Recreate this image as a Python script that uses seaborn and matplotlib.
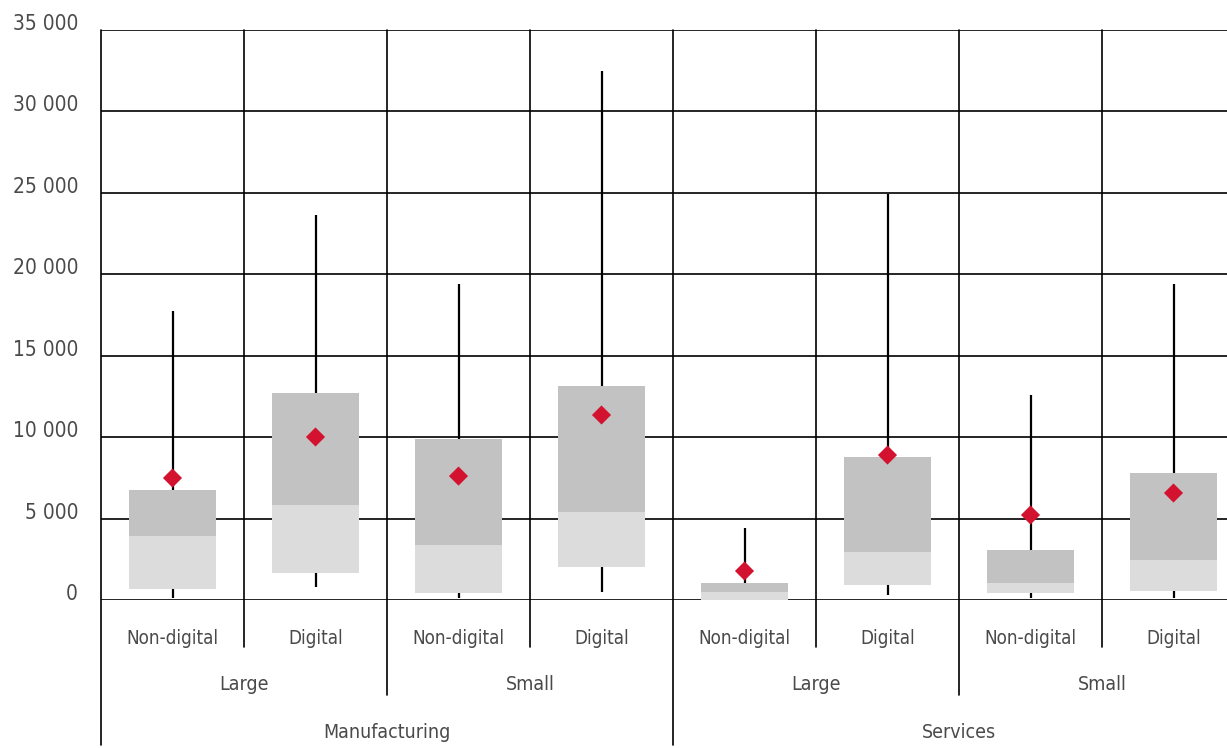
import numpy as np
import pandas as pd
import matplotlib
matplotlib.use('Agg')
import matplotlib.pyplot as plt
import matplotlib.transforms as mtransforms
from matplotlib import font_manager
import seaborn as sns

# categories (innermost level first)
digital = ['Non-digital', 'Digital', 'Non-digital', 'Digital',
           'Non-digital', 'Digital', 'Non-digital', 'Digital']
size = ['Large', 'Large', 'Small', 'Small', 'Large', 'Large', 'Small', 'Small']
sector = ['Manufacturing'] * 4 + ['Services'] * 4

# summary statistics
vmin = [100, 800, 120, 490, 0, 310, 120, 120]
q1 = [680, 1660, 430, 2030, 0, 920, 430, 550]
median = [3930, 5830, 3380, 5400, 500, 2950, 1040, 2460]
q3 = [6750, 12710, 9890, 13140, 1040, 8780, 3070, 7800]
vmax = [17750, 23640, 19400, 32480, 4420, 24930, 12590, 19400]
mean = [7490, 10010, 7610, 11360, 1780, 8900, 5220, 6570]

yticks = [0, 5000, 10000, 15000, 20000, 25000, 30000, 35000]
ytick_labels = ['0', '5 000', '10 000', '15 000', '20 000', '25 000', '30 000', '35 000']

df = pd.DataFrame(dict(digital=digital, size=size, sector=sector, vmin=vmin, q1=q1,
                       median=median, q3=q3, vmax=vmax, mean=mean))
df['pos'] = np.arange(len(df))

sns.set_style('white')
plt.rcParams['font.family'] = ['DejaVu Sans']
plt.rcParams['font.stretch'] = 'condensed'
print([f.name + ' ' + str(f.stretch) for f in font_manager.fontManager.ttflist if 'Condensed' in f.fname or 'Narrow' in f.fname][:10])
TXT = '#4a4a4a'
LIGHT = '#dcdcdc'
DARK = '#c2c2c2'
RED = '#d2122e'

fig = plt.figure(figsize=(12.27, 7.48), dpi=100)
ax = fig.add_axes([101 / 1227, 1 - 600 / 748, 1144 / 1227, 570 / 748])

# whiskers
ax.vlines(df['pos'], df['vmin'], df['vmax'], color='black', lw=1.6, zorder=2)
# box: q1 -> median (light) and median -> q3 (dark)
bw = 0.615
ax.bar(df['pos'], df['median'] - df['q1'], bottom=df['q1'], width=bw,
       color=LIGHT, zorder=3, linewidth=0)
ax.bar(df['pos'], df['q3'] - df['median'], bottom=df['median'], width=bw,
       color=DARK, zorder=3, linewidth=0)
# means
sns.scatterplot(data=df, x='pos', y='mean', marker='D', s=95, color=RED,
                edgecolor='none', zorder=4, ax=ax, legend=False)

ax.set_xlim(-0.5, len(df) - 0.5)
ax.set_ylim(0, 35000)
ax.set_yticks(yticks)
ax.set_yticklabels(ytick_labels, fontsize=15, color=TXT, fontstretch='condensed')
ax.set_xticks([])
ax.set_xlabel('')
ax.set_ylabel('')
ax.tick_params(axis='y', length=0, pad=16.5)
offset = mtransforms.ScaledTranslation(0, 8 / 100, fig.dpi_scale_trans)
for lab in ax.get_yticklabels():
    lab.set_transform(lab.get_transform() + offset)

for s in ax.spines.values():
    s.set_visible(False)
ax.grid(False)
for y in yticks:
    ax.axhline(y, color='black', lw=1.2, zorder=1)

# vertical separators, extending below the axis by hierarchy level
trans = mtransforms.blended_transform_factory(ax.transData, ax.transAxes)
depth = {-0.5: -0.254, 3.5: -0.254, 1.5: -0.167, 5.5: -0.167,
         0.5: -0.0825, 2.5: -0.0825, 4.5: -0.0825, 6.5: -0.0825, 7.5: -0.254}
for xb, yb in depth.items():
    ax.plot([xb, xb], [yb, 1], color='black', lw=1.2, transform=trans,
            clip_on=False, zorder=1)

# category labels
for p, d in zip(df['pos'], df['digital']):
    ax.text(p, -0.0667, d, transform=trans, ha='center', va='center',
            fontsize=13.5, color=TXT, fontstretch='condensed')
for i in range(0, len(df), 2):
    ax.text(i + 0.5, -0.149, size[i], transform=trans, ha='center', va='center',
            fontsize=14, color=TXT, fontstretch='condensed')
for i in range(0, len(df), 4):
    ax.text(i + 1.5, -0.233, sector[i], transform=trans, ha='center', va='center',
            fontsize=14, color=TXT, fontstretch='condensed')

fig.savefig('out.png', dpi=100)
